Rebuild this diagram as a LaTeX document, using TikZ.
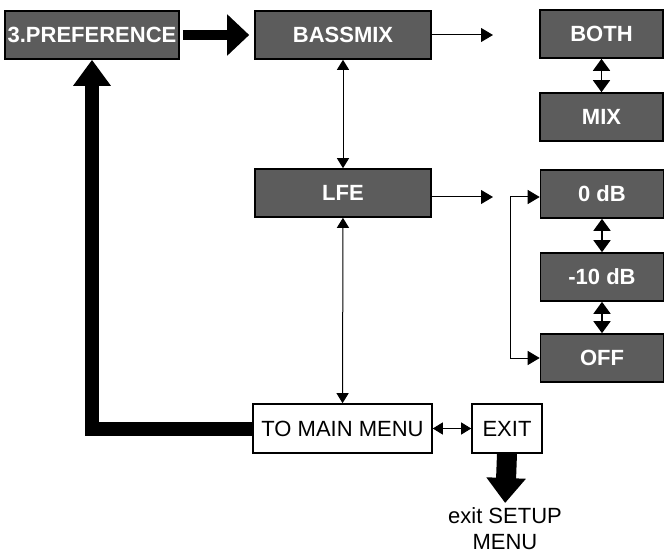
\documentclass[tikz,border=0pt]{standalone}
\usepackage{fontspec}
\setmainfont{Liberation Sans}
\usetikzlibrary{arrows.meta}
\definecolor{menugrey}{HTML}{5C5C5C}
\begin{document}
\begin{tikzpicture}[
                x=0.5pt, y=-0.5pt,
                every node/.style={font=\fontsize{11}{13}\selectfont, inner sep=0pt},
                menubox/.style={draw, line width=0.8pt, fill=menugrey, text=white,
                    font=\fontsize{11}{13}\selectfont\bfseries, minimum height=24pt},
                plainbox/.style={draw, line width=0.8pt, fill=white, minimum height=24.5pt},
                thinarrow/.style={line width=0.5pt, -{Triangle[width=7pt,length=6pt]}},
                twoway/.style={line width=0.5pt, {Triangle[width=6pt,length=5pt]}-{Triangle[width=6pt,length=5pt]}},
                chunky/.style={line width=0.8pt, {Triangle[width=8.5pt,length=6pt]}-{Triangle[width=8.5pt,length=6pt]}},
                fatarrow/.style={line width=5pt, -{Triangle[width=20pt,length=11pt]}},
                looparrow/.style={line width=7pt, line join=miter, -{Triangle[width=18pt,length=13pt]}},
                exitarrow/.style={line width=10pt, -{Triangle[width=19pt,length=12.5pt]}}
            ]
            \useasboundingbox (0,0) rectangle (670,551);

            \node[menubox, minimum width=87pt] (pref) at (92,35) {3.PREFERENCE};
            \node[menubox, minimum width=88pt] (bassmix) at (343,35) {BASSMIX};
            \node[menubox, minimum width=88pt] (lfe) at (343,193) {LFE};
            \node[menubox, minimum width=61.5pt] (both) at (601.5,34) {BOTH};
            \node[menubox, minimum width=61.5pt] (mix) at (601.5,117) {MIX};
            \node[menubox, minimum width=61.5pt] (zero) at (602,194) {0 dB};
            \node[menubox, minimum width=61.5pt] (minus) at (602,277) {-10 dB};
            \node[menubox, minimum width=61.5pt] (off) at (602,358) {OFF};
            \node[plainbox, minimum width=89.5pt] (tomain) at (342.5,428.5) {TO MAIN MENU};
            \node[plainbox, minimum width=35pt] (exit) at (507,428.5) {EXIT};
            \node[anchor=north, align=center] (exitnote) at (505,507) {exit SETUP\\MENU};

            \coordinate (bassend) at (493,35);
            \coordinate (lfeend) at (493,197);
            \coordinate (bracket) at (510,197);

            \draw[fatarrow, shorten <=1.5pt, shorten >=2.5pt] (pref) -- (bassmix);
            \draw[thinarrow] (bassmix.east) -- (bassend);
            \draw[thinarrow] (lfe.east |- lfeend) -- (lfeend);
            \draw[twoway] (bassmix) -- (lfe);
            \draw[twoway] (lfe) -- (tomain);
            \draw[twoway] (tomain) -- (exit);
            \draw[chunky] (both) -- (mix);
            \draw[chunky] (zero) -- (minus);
            \draw[chunky] (minus) -- (off);
            \draw[thinarrow] (off.west -| bracket) -- (bracket) -- (zero.west |- bracket);
            \draw[thinarrow] (bracket) -- (off.west -| bracket) -- (off.west);
            \draw[looparrow] (tomain.west) -| (pref.south);
            \draw[exitarrow, shorten >=2pt] (exit.south) -- (exitnote.north);

        \end{tikzpicture}
\end{document}
